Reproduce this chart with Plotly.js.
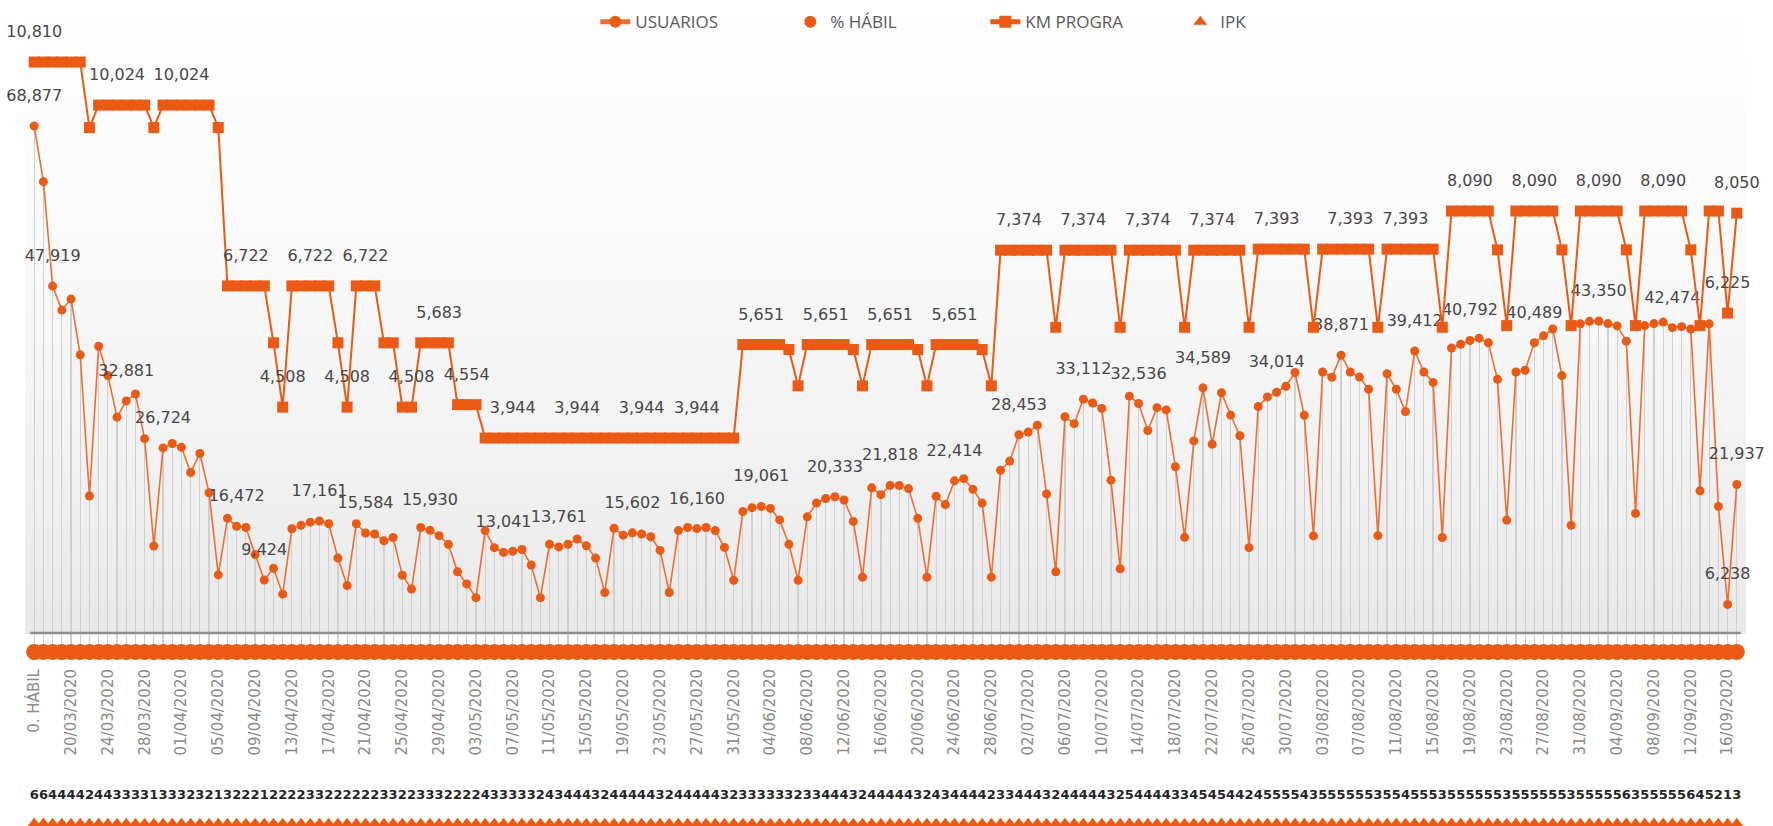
<!DOCTYPE html>
<html><head><meta charset="utf-8">
<script src="https://cdn.plot.ly/plotly-3.0.1.min.js"></script>
<style>
html,body{margin:0;padding:0;background:#fff;}
#wrap{position:relative;width:1773px;height:826px;overflow:hidden;}
#bg{position:absolute;left:25px;top:0px;width:1721px;height:634px;background:linear-gradient(to bottom,#ffffff 0%,#fbfbfb 30%,#f2f2f2 70%,#e8e8e8 100%);}
#chart{position:absolute;left:0;top:0;width:1773px;height:826px;}
</style></head><body>
<div id="wrap"><div id="bg"></div><div id="chart"></div></div>
<script>
// ---------- DATA ----------
const firstCategory = '0. HÁBIL';
const dayCount = 185; // 17/03/2020 .. 17/09/2020
const tickLabels = ['0. HÁBIL','20/03/2020','24/03/2020','28/03/2020','01/04/2020','05/04/2020','09/04/2020','13/04/2020','17/04/2020','21/04/2020','25/04/2020','29/04/2020','03/05/2020','07/05/2020','11/05/2020','15/05/2020','19/05/2020','23/05/2020','27/05/2020','31/05/2020','04/06/2020','08/06/2020','12/06/2020','16/06/2020','20/06/2020','24/06/2020','28/06/2020','02/07/2020','06/07/2020','10/07/2020','14/07/2020','18/07/2020','22/07/2020','26/07/2020','30/07/2020','03/08/2020','07/08/2020','11/08/2020','15/08/2020','19/08/2020','23/08/2020','27/08/2020','31/08/2020','04/09/2020','08/09/2020','12/09/2020','16/09/2020'];

const usuarios = [68877,61593,47919,44774,46217,38912,20426,
40040,36207,30750,32881,33780,27940,13888,
26724,27300,26800,23500,26000,20850,10100,
17500,16472,16300,12760,9424,10960,7575,
16142,16600,17000,17161,16800,12310,8700,
16800,15584,15460,14560,15000,10050,8250,
16300,15930,15240,14100,10500,8920,7120,
15900,13660,13041,13200,13430,11400,7120,
14110,13761,14100,14800,13900,12300,7800,
16200,15300,15602,15450,15100,13300,7800,
15900,16300,16160,16300,15900,13700,9400,
18400,18900,19061,18800,17300,14100,9400,
17700,19500,20100,20333,19900,17100,9800,
21500,20600,21818,21800,21400,17500,9800,
20400,19300,22414,22700,21300,19500,9800,
23800,25000,28453,28800,29700,20700,10500,
30800,29900,33112,32600,31900,22500,10900,
33500,32536,29000,32000,31700,24260,15015,
27640,34589,27190,33950,31020,28320,13660,
32150,33400,34014,34800,36600,31000,15200,
36660,35980,38871,36660,36000,34400,15240,
36430,34400,31470,39412,36660,35300,14990,
39800,40300,40792,41100,40500,35700,17270,
36660,36900,40489,41400,42300,36200,16590,
42970,43300,43350,43000,42700,40700,18150,
42740,43000,43200,42474,42600,42300,21100,
42970,19070,6238,21937];

const kmProgra = [10810,10810,10810,10810,10810,10810,9613,
10024,10024,10024,10024,10024,10024,9613,
10024,10024,10024,10024,10024,10024,9613,
6722,6722,6722,6722,6722,5683,4508,
6722,6722,6722,6722,6722,5683,4508,
6722,6722,6722,5683,5683,4508,4508,
5683,5683,5683,5683,4554,4554,4554,
3944,3944,3944,3944,3944,3944,3944,
3944,3944,3944,3944,3944,3944,3944,
3944,3944,3944,3944,3944,3944,3944,
3944,3944,3944,3944,3944,3944,3944,
5651,5651,5651,5651,5651,5560,4897,
5651,5651,5651,5651,5651,5560,4897,
5651,5651,5651,5651,5651,5560,4897,
5651,5651,5651,5651,5651,5560,4897,
7374,7374,7374,7374,7374,7374,5966,
7374,7374,7374,7374,7374,7374,5966,
7374,7374,7374,7374,7374,7374,5966,
7374,7374,7374,7374,7374,7374,5966,
7393,7393,7393,7393,7393,7393,5966,
7393,7393,7393,7393,7393,7393,5966,
7393,7393,7393,7393,7393,7393,5966,
8090,8090,8090,8090,8090,7381,5997,
8090,8090,8090,8090,8090,7381,5997,
8090,8090,8090,8090,8090,7381,5997,
8090,8090,8090,8090,8090,7381,5997,
8090,8090,6225,8050];

const habil = [1.00,0.89,0.70,0.65,0.67,0.56,0.30,
0.58,0.53,0.45,0.48,0.49,0.41,0.20,
0.39,0.40,0.39,0.34,0.38,0.30,0.15,
0.25,0.24,0.24,0.19,0.14,0.16,0.11,
0.23,0.24,0.25,0.25,0.24,0.18,0.13,
0.24,0.23,0.22,0.21,0.22,0.15,0.12,
0.24,0.23,0.22,0.20,0.15,0.13,0.10,
0.23,0.20,0.19,0.19,0.19,0.17,0.10,
0.20,0.20,0.20,0.21,0.20,0.18,0.11,
0.24,0.22,0.23,0.22,0.22,0.19,0.11,
0.23,0.24,0.23,0.24,0.23,0.20,0.14,
0.27,0.27,0.28,0.27,0.25,0.20,0.14,
0.26,0.28,0.29,0.30,0.29,0.25,0.14,
0.31,0.30,0.32,0.32,0.31,0.25,0.14,
0.30,0.28,0.33,0.33,0.31,0.28,0.14,
0.35,0.36,0.41,0.42,0.43,0.30,0.15,
0.45,0.43,0.48,0.47,0.46,0.33,0.16,
0.49,0.47,0.42,0.46,0.46,0.35,0.22,
0.40,0.50,0.39,0.49,0.45,0.41,0.20,
0.47,0.48,0.49,0.51,0.53,0.45,0.22,
0.53,0.52,0.56,0.53,0.52,0.50,0.22,
0.53,0.50,0.46,0.57,0.53,0.51,0.22,
0.58,0.59,0.59,0.60,0.59,0.52,0.25,
0.53,0.54,0.59,0.60,0.61,0.53,0.24,
0.62,0.63,0.63,0.62,0.62,0.59,0.26,
0.62,0.62,0.63,0.62,0.62,0.61,0.31,
0.62,0.28,0.09,0.32];

const ipk = [6,6,4,4,4,4,2,
4,4,3,3,3,3,1,
3,3,3,2,3,2,1,
3,2,2,2,1,2,2,
2,2,3,3,2,2,2,
2,2,2,3,3,2,2,
3,3,3,2,2,2,2,
4,3,3,3,3,3,2,
4,3,4,4,4,3,2,
4,4,4,4,4,3,2,
4,4,4,4,4,3,2,
3,3,3,3,3,3,2,
3,3,4,4,4,3,2,
4,4,4,4,4,3,2,
4,3,4,4,4,4,2,
3,3,4,4,4,3,2,
4,4,4,4,4,3,2,
5,4,4,4,4,3,3,
4,5,4,5,4,4,2,
4,5,5,5,5,4,3,
5,5,5,5,5,5,3,
5,5,4,5,5,5,3,
5,5,5,5,5,5,3,
5,5,5,5,5,5,3,
5,5,5,5,5,6,3,
5,5,5,5,5,6,4,
5,2,1,3];

// points that carry a data label
const usuLabelIdx = [0,2,10,14,22,25,31,36,43,51,57,65,72,79,87,93,100,107,114,120,127,135,142,150,156,163,170,178,184,185];
const kmLabelIdx = [0,9,16,23,27,30,34,36,41,44,47,52,59,66,72,79,86,93,100,107,114,121,128,135,143,149,156,163,170,177,184,185];

// ---------- BUILD ----------
const pad = n => (n < 10 ? '0' : '') + n;
const categories = [firstCategory];
for (let k = 0; k < dayCount; k++) {
  const d = new Date(Date.UTC(2020, 2, 17 + k));
  categories.push(pad(d.getUTCDate()) + '/' + pad(d.getUTCMonth() + 1) + '/' + d.getUTCFullYear());
}
const fmt = v => v.toLocaleString('en-US');

const ORANGE = '#EA5A14';
const ORANGE_LINE = '#EE6E32';
const FONT = 'Open Sans, Liberation Sans, sans-serif';
const LABEL_FONT = 'DejaVu Sans, sans-serif';

const traces = [
  { type:'bar', x:categories, y:usuarios, yaxis:'y', width:0.13,
    marker:{color:'#cfcfcf', line:{width:0}}, showlegend:false, hoverinfo:'skip' },
  { type:'scatter', mode:'lines+markers', name:'USUARIOS', legendrank:1,
    x:categories, y:usuarios, yaxis:'y',
    line:{color:ORANGE_LINE, width:1.6}, marker:{symbol:'circle', size:9, color:ORANGE} },
  { type:'scatter', mode:'markers', name:'% HÁBIL', legendrank:2,
    x:categories, y:habil, yaxis:'y', cliponaxis:false,
    marker:{symbol:'circle', size:16, color:ORANGE} },
  { type:'scatter', mode:'markers+text', showlegend:false, hoverinfo:'skip',
    x:usuLabelIdx.map(i => categories[i]), y:usuLabelIdx.map(i => usuarios[i]), yaxis:'y',
    text:usuLabelIdx.map(i => fmt(usuarios[i])), textposition:'top center', cliponaxis:false,
    textfont:{family:LABEL_FONT, size:16, color:'#474747'}, marker:{size:32, opacity:0} },
  { type:'scatter', mode:'lines+markers', name:'KM PROGRA', legendrank:3,
    x:categories, y:kmProgra, yaxis:'y2',
    line:{color:ORANGE, width:2}, marker:{symbol:'square', size:11, color:ORANGE} },
  { type:'scatter', mode:'markers+text', showlegend:false, hoverinfo:'skip',
    x:kmLabelIdx.map(i => categories[i]), y:kmLabelIdx.map(i => kmProgra[i]), yaxis:'y2',
    text:kmLabelIdx.map(i => fmt(kmProgra[i])), textposition:'top center', cliponaxis:false,
    textfont:{family:LABEL_FONT, size:16, color:'#474747'}, marker:{size:32, opacity:0} },
  { type:'scatter', mode:'markers', name:'IPK', legendrank:4,
    x:categories, y:ipk, yaxis:'y3', cliponaxis:false,
    marker:{symbol:'triangle-up', size:13, color:ORANGE} },
  { type:'scatter', mode:'text', showlegend:false, hoverinfo:'skip',
    x:categories, y:ipk, yaxis:'y4', cliponaxis:false,
    text:ipk.map(String), textposition:'middle center',
    textfont:{family:'DejaVu Sans, sans-serif', size:13, color:'#262626', weight:'bold'} }
];

const hidden = {visible:false, showgrid:false, zeroline:false, fixedrange:true};
const layout = {
  width:1773, height:826,
  margin:{l:25, r:27, t:0, b:0},
  paper_bgcolor:'rgba(0,0,0,0)', plot_bgcolor:'rgba(0,0,0,0)',
  font:{family:FONT, color:'#595959'},
  showlegend:true,
  legend:{orientation:'h', x:0.558, xanchor:'center', y:0.973, yanchor:'middle',
          font:{family:FONT, size:17, color:'#595959'}, itemsizing:'constant',
          entrywidth:150, entrywidthmode:'pixels',
          bgcolor:'rgba(0,0,0,0)', traceorder:'normal'},
  xaxis:{type:'category', categoryorder:'array', categoryarray:categories,
         range:[-1, categories.length], tickmode:'array', tickvals:tickLabels, ticktext:tickLabels,
         tickangle:-90, tickfont:{family:'DejaVu Sans, sans-serif', size:15, color:'#8a8a8a'},
         showgrid:false, zeroline:false, showline:false, ticks:'', anchor:'y', fixedrange:true},
  yaxis:Object.assign({domain:[0.1949, 1], range:[-1702, 85376]}, hidden),
  yaxis2:Object.assign({overlaying:'y', range:[-201, 11943]}, hidden),
  yaxis3:Object.assign({domain:[0, 0.006], range:[-600, 1000], anchor:'x'}, hidden),
  yaxis4:Object.assign({domain:[0.036, 0.056], range:[0, 1000], anchor:'x'}, hidden),
  shapes:[{type:'line', xref:'paper', x0:0.003, x1:0.997, yref:'y', y0:2488, y1:2488,
           line:{color:'#8f8f8f', width:2.5}, layer:'above'}],
  bargap:0
};

Plotly.newPlot('chart', traces, layout, {displayModeBar:false, staticPlot:true});
</script>
</body></html>
